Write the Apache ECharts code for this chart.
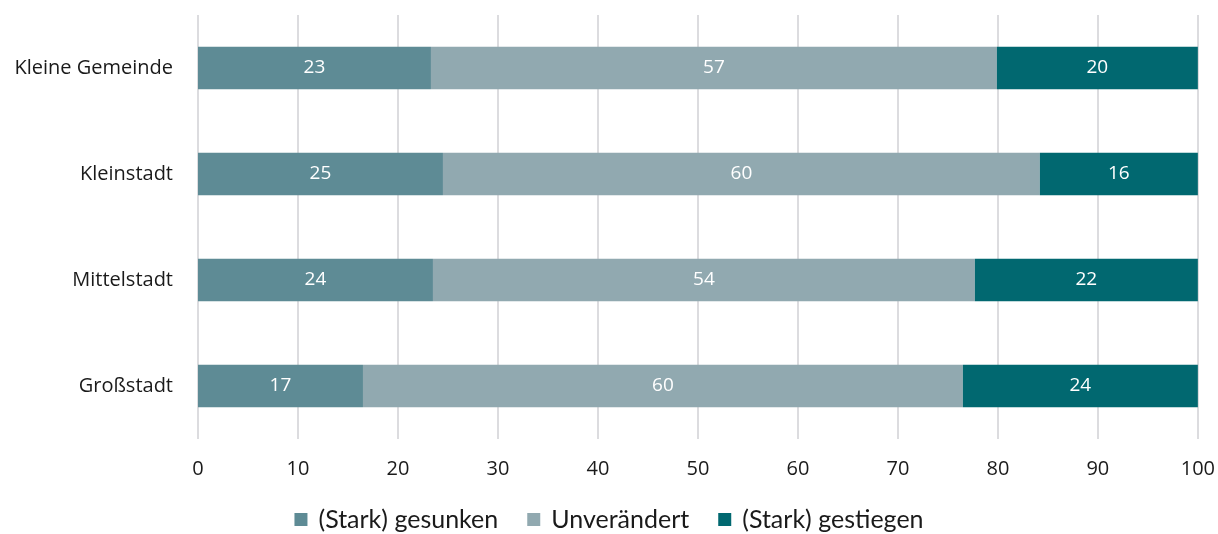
<!DOCTYPE html>
<html>
<head>
<meta charset="utf-8">
<script src="https://cdn.jsdelivr.net/npm/echarts@6/dist/echarts.min.js"></script>
<style>
  html, body { margin: 0; padding: 0; background: #fff; }
  #chartBar { width: 1218px; height: 534px; }
</style>
</head>
<body>
<div id="chartBar"></div>
<script>
// Kategorien (von oben nach unten)
const categories = ["Kleine Gemeinde", "Kleinstadt", "Mittelstadt", "Großstadt"];
// Anteile in Prozent
const gesunken = [23.3, 24.5, 23.5, 16.5];
const unveraendert = [56.6, 59.7, 54.2, 60.0];
const gestiegen = [20.1, 15.8, 22.3, 23.5];
const xTicks = [0, 10, 20, 30, 40, 50, 60, 70, 80, 90, 100];

const font = "'Open Sans', sans-serif";

function makeSeries(name, data, color) {
  return {
    name: name,
    type: "bar",
    stack: "total",
    barWidth: "40%",
    data: data,
    itemStyle: { color: color },
    label: {
      show: true,
      position: "inside",
      color: "#fff",
      fontFamily: font,
      fontSize: 19,
      formatter: p => Math.round(p.value)
    }
  };
}

const chartBar = echarts.init(document.getElementById("chartBar"));
chartBar.setOption({
  animation: false,
  grid: { left: 198, right: 20, top: 15, bottom: 95 },
  legend: {
    top: 502,
    left: "center",
    itemWidth: 13,
    itemHeight: 13,
    itemGap: 29,
    icon: "rect",
    textStyle: { fontFamily: "Lato, sans-serif", fontSize: 25, color: "#1a1a1a", padding: [0, 0, 0, 6] },
    data: ["(Stark) gesunken", "Unverändert", "(Stark) gestiegen"]
  },
  xAxis: {
    type: "value",
    min: 0,
    max: 100,
    interval: 10,
    axisLine: { show: false },
    axisTick: { show: false },
    splitLine: { lineStyle: { color: "#dcdcdf", width: 2 } },
    axisLabel: {
      fontFamily: font, fontSize: 20, color: "#1a1a1a", margin: 20,
      formatter: v => xTicks.includes(v) ? String(v) : ""
    }
  },
  yAxis: {
    type: "category",
    inverse: true,
    data: categories,
    axisLine: { show: false },
    axisTick: { show: false },
    axisLabel: { fontFamily: font, fontSize: 20, color: "#1a1a1a", margin: 25 }
  },
  series: [
    makeSeries("(Stark) gesunken", gesunken, "#5e8b95"),
    makeSeries("Unverändert", unveraendert, "#91a9b0"),
    makeSeries("(Stark) gestiegen", gestiegen, "#016870")
  ]
});
</script>
</body>
</html>
